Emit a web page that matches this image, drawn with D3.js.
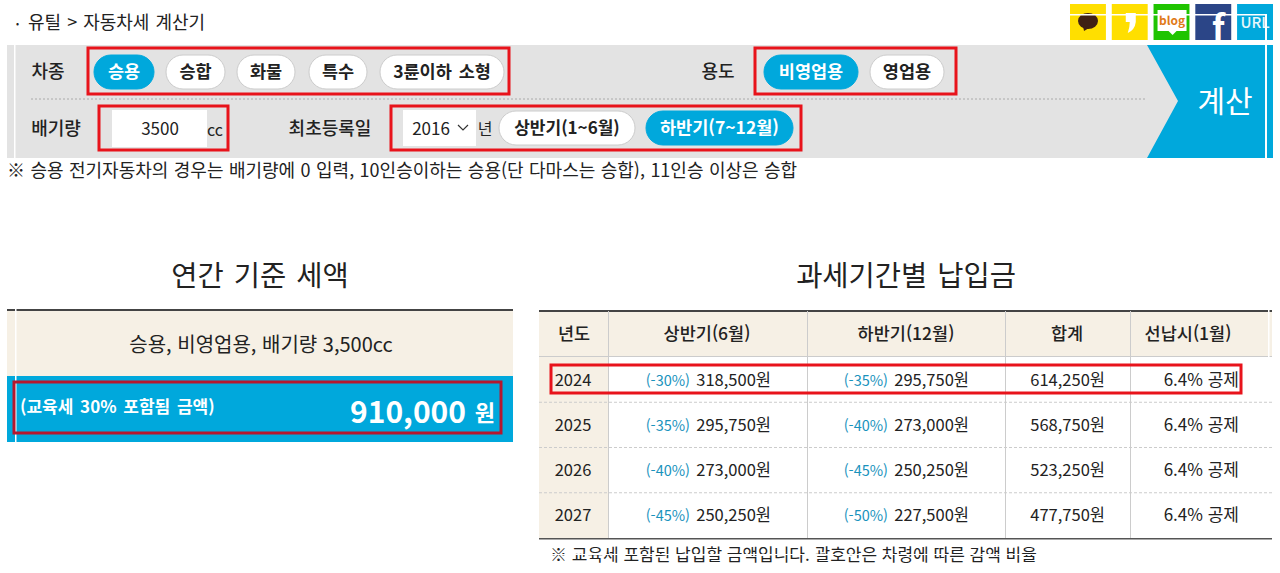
<!DOCTYPE html>
<html lang="ko">
<head>
<meta charset="utf-8">
<script src="https://cdn.jsdelivr.net/npm/d3@7"></script>
<style>
  html, body { margin: 0; padding: 0; background: #fff; overflow: hidden; }
  svg { display: block; }
  text { font-family: "Noto Sans CJK KR", "Noto Sans", sans-serif; fill: #222; }
</style>
</head>
<body>
<div id="chart"></div>
<script>
var years = ['2024', '2025', '2026', '2027'];
var columns = ['년도', '상반기(6월)', '하반기(12월)', '합계', '선납시(1월)'];
var firstRates = ['(-30%)', '(-35%)', '(-40%)', '(-45%)'];
var firstAmounts = [318500, 295750, 273000, 250250];
var secondRates = ['(-35%)', '(-40%)', '(-45%)', '(-50%)'];
var secondAmounts = [295750, 273000, 250250, 227500];
var totals = [614250, 568750, 523250, 477750];
var prepay = ['6.4% 공제', '6.4% 공제', '6.4% 공제', '6.4% 공제'];
var carTypes = ['승용', '승합', '화물', '특수', '3륜이하 소형'];
var usages = ['비영업용', '영업용'];
var annualTax = 910000;

var BLUE = '#00a8dc', RED = '#e8131b', BEIGE = '#f6f0e5', GREY = '#e3e3e3';
var fmt = d3.format(',');

var svg = d3.select('#chart').append('svg').attr('width', 1280).attr('height', 573);

function label(x, y, str, size, opts) {
  opts = opts || {};
  return svg.append('text').attr('x', x).attr('y', y).text(str)
    .attr('font-size', size)
    .attr('text-anchor', opts.anchor || 'middle')
    .attr('font-weight', opts.weight || 400)
    .style('word-spacing', (opts.ws || 0) + 'px')
    .style('fill', opts.fill || '#222');
}
function box(x, y, w, h, fill) {
  return svg.append('rect').attr('x', x).attr('y', y).attr('width', w).attr('height', h).attr('fill', fill);
}
function redBox(x, y, w, h) {
  return svg.append('rect').attr('x', x).attr('y', y).attr('width', w).attr('height', h)
    .attr('fill', 'none').attr('stroke', RED).attr('stroke-width', 3);
}
function pill(x, y, w, h, str, on, size) {
  svg.append('rect').attr('x', x).attr('y', y).attr('width', w).attr('height', h).attr('rx', h / 2)
    .attr('fill', on ? BLUE : '#fff').attr('stroke', on ? BLUE : '#ccc');
  label(x + w / 2, y + h / 2 + 6, str, size || 17.5, { weight: 700, ws: 2, fill: on ? '#fff' : '#222' });
}

// breadcrumb
label(16, 27, '•', 9, { anchor: 'start' });
label(28, 29, '유틸 > 자동차세 계산기', 18, { anchor: 'start', ws: 1 });

// share icons
var iconX = d3.scaleBand().domain(['talk', 'story', 'blog', 'fb', 'url']).range([1070, 1273]).paddingInner(0.14);
var iconColor = { talk: '#ffdf00', story: '#ffdf00', blog: '#1fc400', fb: '#2b4587', url: '#00a8dc' };
iconX.domain().forEach(function(k) {
  box(iconX(k), 4, iconX.bandwidth(), 36, iconColor[k]);
});
svg.append('ellipse').attr('cx', iconX('talk') + 18).attr('cy', 21).attr('rx', 10).attr('ry', 8).attr('fill', '#3f2014');
svg.append('path').attr('fill', '#3f2014')
  .attr('d', 'M' + (iconX('talk') + 13) + ' 26l1 5 5-3z');
svg.append('path').attr('fill', '#fff')
  .attr('d', 'M' + (iconX('story') + 14) + ' 13h10v9q-1 8-8 11q2-6 2-11h-4z');
box(iconX('blog') + 4, 10, 29, 21, '#fff');
svg.append('path').attr('fill', '#fff')
  .attr('d', 'M' + (iconX('blog') + 15) + ' 31h8l-4 4z');
label(iconX('blog') + 18.5, 25, 'blog', 12, { fill: '#e07a1a', weight: 700 });
label(iconX('fb') + 23, 40, 'f', 34, { fill: '#fff', weight: 700 });
label(iconX('url') + 18, 28, 'URL', 15, { fill: '#e6f6fb', weight: 500 });
box(1070, 14, 197, 1.5, '#fff');

// form panel
box(7, 45, 1259, 113, GREY);
box(14, 45, 1.5, 113, '#fff');
svg.append('path').attr('fill', BLUE)
  .attr('d', d3.line()([[1147, 45], [1273, 45], [1273, 158], [1147, 158], [1178, 101]]));
box(1265, 14, 2, 144, '#fff');
label(1225, 112, '계산', 30, { fill: '#fff' });
svg.append('line').attr('x1', 31).attr('x2', 1147).attr('y1', 99).attr('y2', 99)
  .attr('stroke', '#aaa').attr('stroke-dasharray', '2 2');

label(48, 78, '차종', 18, { weight: 500 });
pill(94, 55, 60, 34, carTypes[0], true);
pill(166, 55, 59, 34, carTypes[1], false);
pill(237, 55, 58, 34, carTypes[2], false);
pill(309, 55, 58, 34, carTypes[3], false);
pill(380, 55, 124, 34, carTypes[4], false);
redBox(88, 48, 421, 46);

label(718, 78, '용도', 18, { weight: 500 });
pill(764, 55, 94, 34, usages[0], true);
pill(870, 55, 74, 34, usages[1], false);
redBox(755, 48, 201, 46);

label(56, 135, '배기량', 18, { weight: 500 });
box(112, 110, 95, 37, '#fff');
label(160, 135, '3500', 17);
label(215, 136, 'cc', 16);
redBox(99, 106, 129, 44);

label(330, 135, '최초등록일', 18, { weight: 500 });
box(403, 110, 73, 36, '#fff');
label(431, 135, '2016', 17);
svg.append('path').attr('d', 'M458 125l5 5 5-5').attr('fill', 'none').attr('stroke', '#333').attr('stroke-width', 1.2);
label(485, 135, '년', 16);
pill(499, 111, 136, 34, '상반기(1~6월)', false, 17);
pill(646, 111, 147, 34, '하반기(7~12월)', true, 17.5);
redBox(391, 106, 410, 44);

label(7, 177, '※ 승용 전기자동차의 경우는 배기량에 0 입력, 10인승이하는 승용(단 다마스는 승합), 11인승 이상은 승합', 18, { anchor: 'start', ws: 0.4 });

// annual tax block
label(260, 286, '연간 기준 세액', 28.5, { ws: 2 });
box(7, 309, 506, 2, '#444');
box(7, 311, 506, 65, BEIGE);
label(261, 352, '승용, 비영업용, 배기량 3,500cc', 20);
box(7, 376, 506, 66, BLUE);
box(15, 309, 1.5, 133, '#fff');
label(20, 413, '(교육세 30% 포함됨 금액)', 17, { anchor: 'start', weight: 700, fill: '#fff', ws: 2 });
label(466, 423, fmt(annualTax), 30, { anchor: 'end', weight: 700, fill: '#fff' });
label(495, 421, '원', 22, { anchor: 'end', weight: 700, fill: '#fff' });
svg.append('rect').attr('x', 14).attr('y', 382).attr('width', 487).attr('height', 51)
  .attr('fill', 'none').attr('stroke', '#b5172e').attr('stroke-width', 3);

// payment table
label(906, 286, '과세기간별 납입금', 28.5, { ws: 2 });

var colX = d3.scaleOrdinal().domain(columns).range([539, 608, 807, 1005, 1130]);
var colEnd = 1272;
var rowY = d3.scaleBand().domain(years).range([357, 538]);
var tableTop = 311;

box(539, tableTop, colEnd - 539, 46, BEIGE);
box(539, 357, 69, 181, BEIGE);
box(539, 310, colEnd - 539, 2, '#444');
box(539, 538, colEnd - 539, 1.5, '#555');
box(539, 356, colEnd - 539, 1, '#ccc');

svg.selectAll('line.sep').data(years.slice(0, 3)).enter().append('line')
  .attr('class', 'sep')
  .attr('x1', 539).attr('x2', colEnd)
  .attr('y1', function(d) { return rowY(d) + rowY.bandwidth(); })
  .attr('y2', function(d) { return rowY(d) + rowY.bandwidth(); })
  .attr('stroke', '#ccc').attr('stroke-dasharray', '3 2');

svg.selectAll('line.col').data(columns.slice(1)).enter().append('line')
  .attr('class', 'col')
  .attr('x1', function(d) { return colX(d) + 0.5; })
  .attr('x2', function(d) { return colX(d) + 0.5; })
  .attr('y1', tableTop).attr('y2', 538)
  .attr('stroke', '#ccc');
box(1268, 310, 1.5, 47, '#fff');

var headMid = [574, 707, 906, 1067, 1188];
columns.forEach(function(c, i) {
  label(headMid[i], 340, c, 17.5, { weight: 500 });
});

years.forEach(function(y, i) {
  var yy = rowY(y) + rowY.bandwidth() / 2 + 6;
  label(573, yy, y, 16.5);
  label(690, yy, firstRates[i], 14.5, { anchor: 'end', fill: '#1a93bd' });
  label(771, yy, fmt(firstAmounts[i]) + '원', 16.5, { anchor: 'end' });
  label(888, yy, secondRates[i], 14.5, { anchor: 'end', fill: '#1a93bd' });
  label(969, yy, fmt(secondAmounts[i]) + '원', 16.5, { anchor: 'end' });
  label(1105, yy, fmt(totals[i]) + '원', 16.5, { anchor: 'end' });
  label(1239, yy, prepay[i], 17, { anchor: 'end' });
});
redBox(551, 365, 690, 28);

label(550, 561, '※ 교육세 포함된 납입할 금액입니다. 괄호안은 차령에 따른 감액 비율', 17, { anchor: 'start' });
box(540, 554, 500, 1, '#fff');
</script>
</body>
</html>
